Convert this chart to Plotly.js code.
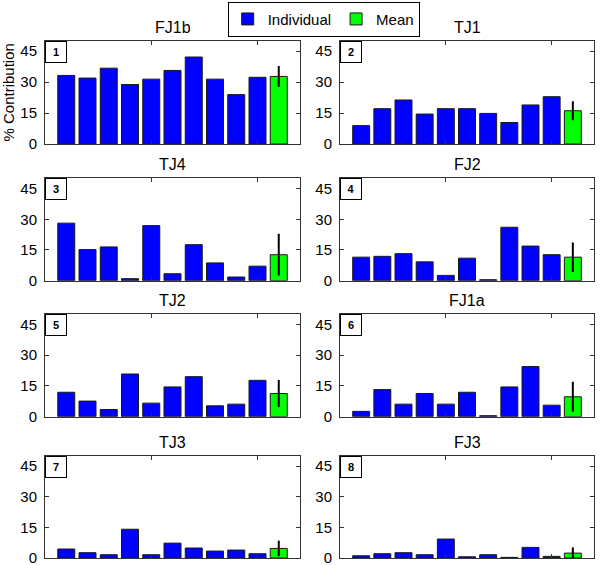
<!DOCTYPE html>
<html>
<head>
<meta charset="utf-8">
<script src="https://cdn.plot.ly/plotly-3.0.1.min.js"></script>
<style>html,body{margin:0;padding:0;background:#fff;}#chart{width:600px;height:565px;}</style>
</head>
<body>
<div id="chart"></div>
<script>
// ---- data ----
var panelTitles = ["FJ1b", "TJ1", "TJ4", "FJ2", "TJ2", "FJ1a", "TJ3", "FJ3"];
var panelLabels = ["1", "2", "3", "4", "5", "6", "7", "8"];
var subjects = [1, 2, 3, 4, 5, 6, 7, 8, 9, 10];
var meanPosition = [11];
var fj1b = [33.2, 31.9, 36.7, 28.8, 31.4, 35.6, 42.1, 31.4, 23.9, 32.3];
var tj1  = [8.9, 17.1, 21.3, 14.5, 17.1, 17.1, 14.8, 10.4, 18.9, 22.9];
var tj4  = [28.1, 15.2, 16.5, 1.0, 26.9, 3.4, 17.6, 8.7, 1.8, 7.1];
var fj2  = [11.5, 11.9, 13.2, 9.2, 2.6, 11.0, 0.5, 26.1, 16.9, 12.7];
var tj2  = [11.9, 7.6, 3.5, 20.8, 6.6, 14.5, 19.5, 5.3, 6.1, 17.7];
var fj1a = [2.6, 13.2, 6.1, 11.3, 6.1, 11.9, 0.5, 14.5, 24.4, 5.6];
var tj3  = [4.4, 2.6, 1.6, 14.1, 1.6, 7.3, 4.9, 3.4, 3.9, 2.1];
var fj3  = [1.1, 2.1, 2.6, 1.6, 9.3, 0.6, 1.6, 0.3, 5.2, 0.8];
var meanValues = [32.7, 16.1, 12.7, 11.5, 11.3, 9.7, 4.7, 2.4];
var meanErrors = [5.0, 4.6, 10.2, 7.2, 6.6, 7.3, 3.8, 2.8];
var yTicks = [0, 15, 30, 45];
var xTicks = [5, 10];

var individual = [fj1b, tj1, tj4, fj2, tj2, fj1a, tj3, fj3];

// ---- layout geometry (pixels in a 600x565 canvas) ----
var W = 600, H = 565;
var colX = [[45, 300], [340, 594]];
var rowY = [[40.7, 144], [178.3, 280.7], [314, 416.7], [456, 558]];

var FONT = "Liberation Sans, Arial, sans-serif";
var traces = [];
var layout = {
  width: W, height: H,
  margin: {l: 0, r: 0, t: 0, b: 0},
  paper_bgcolor: "#fff", plot_bgcolor: "#fff",
  barmode: "overlay",
  font: {family: FONT, size: 14, color: "#000"},
  showlegend: true,
  legend: {
    orientation: "h",
    x: 0.5395, xanchor: "center",
    y: 0.997, yanchor: "top",
    bordercolor: "#000", borderwidth: 1,
    bgcolor: "#fff",
    font: {family: FONT, size: 15, color: "#000"},
    itemwidth: 30,
    tracegroupgap: 0
  },
  annotations: []
};

for (var i = 0; i < 8; i++) {
  var r = Math.floor(i / 2), c = i % 2;
  var sfx = i === 0 ? "" : String(i + 1);
  var xa = "x" + sfx, ya = "y" + sfx;
  traces.push({
    type: "bar", x: subjects, y: individual[i], xaxis: xa, yaxis: ya,
    name: "Individual", legendgroup: "ind", showlegend: i === 0,
    width: 0.8,
    marker: {color: "#0000ff", line: {color: "#1a1a1a", width: 1}},
    hoverinfo: "y"
  });
  traces.push({
    type: "bar", x: meanPosition, y: [meanValues[i]], xaxis: xa, yaxis: ya,
    name: "Mean", legendgroup: "mean", showlegend: i === 0,
    width: 0.8,
    marker: {color: "#00ff00", line: {color: "#1a1a1a", width: 1}},
    error_y: {type: "data", array: [meanErrors[i]], visible: true, color: "#000", thickness: 2, width: 0},
    hoverinfo: "y"
  });
  var axisCommon = {
    showline: true, linecolor: "#333", linewidth: 1, mirror: "ticks",
    ticks: "inside", ticklen: 4, tickcolor: "#333", tickwidth: 1,
    showgrid: false, zeroline: false, fixedrange: true
  };
  layout["xaxis" + sfx] = Object.assign({}, axisCommon, {
    domain: [colX[c][0] / W, colX[c][1] / W],
    range: [0, 12], tickvals: xTicks, showticklabels: false,
    anchor: ya
  });
  layout["yaxis" + sfx] = Object.assign({}, axisCommon, {
    domain: [1 - rowY[r][1] / H, 1 - rowY[r][0] / H],
    range: [0, 50], tickvals: yTicks, ticktext: yTicks.map(String),
    tickfont: {family: FONT, size: 15, color: "#000"},
    ticklabelstandoff: 4,
    ticklabeloverflow: "allow",
    automargin: false,
    anchor: xa
  });
  if (i === 0) {
    layout["yaxis"].title = {text: "% Contribution", font: {family: FONT, size: 15, color: "#000"}, standoff: 4};
  }
  layout.annotations.push({
    xref: xa + " domain", yref: ya + " domain", x: 0.5, y: 1,
    xanchor: "center", yanchor: "bottom", yshift: 3,
    text: panelTitles[i], showarrow: false,
    font: {family: FONT, size: 16, color: "#000"}
  });
  layout.annotations.push({
    xref: xa + " domain", yref: ya + " domain", x: 0, y: 1,
    xanchor: "left", yanchor: "top",
    text: "<b>" + panelLabels[i] + "</b>", showarrow: false,
    width: 18, height: 18, borderpad: 1,
    bordercolor: "#000", borderwidth: 1, bgcolor: "#fff",
    font: {family: FONT, size: 11, color: "#000"}
  });
}

Plotly.newPlot("chart", traces, layout, {staticPlot: true, displayModeBar: false});
</script>
</body>
</html>
